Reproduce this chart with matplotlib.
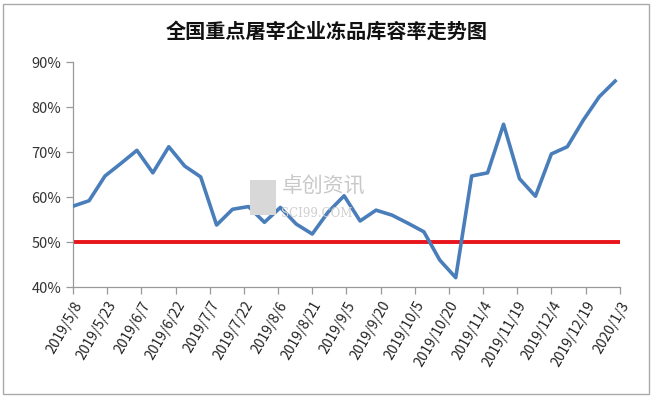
import pandas as pd
import matplotlib.pyplot as plt
from matplotlib.patches import Rectangle

plt.rcParams['font.family'] = ['Noto Sans CJK SC', 'DejaVu Sans']

# weekly readings, storage capacity rate (%)
dates = pd.date_range('2019-05-08', periods=35, freq='7D')
rate = [58.0, 59.2, 64.7, 67.5, 70.4, 65.4, 71.2, 66.9, 64.5, 53.8,
        57.3, 57.9, 54.4, 57.7, 54.0, 51.8, 56.7, 60.3, 54.7, 57.1,
        56.0, 54.2, 52.3, 46.0, 42.1, 64.7, 65.4, 76.2, 64.1, 60.2,
        69.6, 71.2, 77.1, 82.3, 85.8]
warn_level = 50
y_ticks = [40, 50, 60, 70, 80, 90]

start = pd.Timestamp('2019-05-08')
end = pd.Timestamp('2020-01-03')
tick_dates = pd.date_range(start, end, freq='15D')
tick_labels = ['%d/%d/%d' % (d.year, d.month, d.day) for d in tick_dates]

fig = plt.figure(figsize=(6.53, 3.96), dpi=100)
ax = fig.add_axes([0.112, 0.275, 0.837, 0.568])

ax.plot(dates, rate, color='#4a7ebb', linewidth=2.6, zorder=3)
ax.axhline(warn_level, color='#e8141b', linewidth=2.8, zorder=2)

ax.set_xlim(start, end)
ax.set_ylim(40, 90)
ax.set_yticks(y_ticks)
ax.set_yticklabels(['%d%%' % v for v in y_ticks], fontsize=10.5, color='#333333')
ax.set_xticks(tick_dates)
ax.set_xticklabels(tick_labels, rotation=60, ha='right', rotation_mode='anchor',
                   fontsize=10, color='#222222')

for s in ['top', 'right']:
    ax.spines[s].set_visible(False)
for s in ['left', 'bottom']:
    ax.spines[s].set_color('#999999')
    ax.spines[s].set_linewidth(0.9)
ax.tick_params(axis='both', direction='out', length=5, color='#999999', width=0.9)

# watermark
fig.text(0.432, 0.528, '卓创资讯', fontsize=15, color='#c8c8c8', ha='left', va='center', zorder=0)
fig.text(0.430, 0.462, 'SCI99.COM', fontsize=8.5, color='#d0d0d0', ha='left', va='center',
         family='DejaVu Serif', zorder=0)
fig.patches.append(Rectangle((0.383, 0.457), 0.04, 0.088, transform=fig.transFigure,
                             facecolor='#d8d8d8', edgecolor='none', zorder=0))

fig.text(0.5, 0.922, '全国重点屠宰企业冻品库容率走势图', fontsize=14.5, ha='center',
         va='center', weight='bold', color='#111111')

fig.patches.append(Rectangle((0.004, 0.006), 0.99, 0.985, transform=fig.transFigure,
                             fill=False, edgecolor='#aaaaaa', linewidth=1))

plt.savefig('out.png', dpi=100)
